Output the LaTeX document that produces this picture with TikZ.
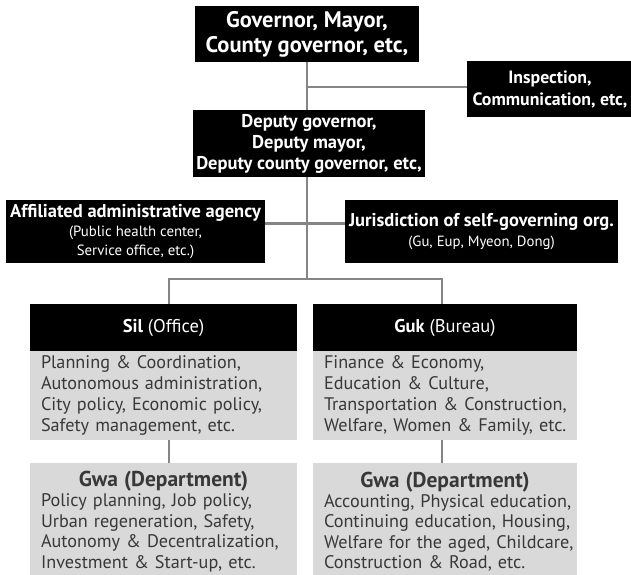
\documentclass[tikz,border=0pt]{standalone}
\usepackage{fontspec}
\setmainfont{PT Sans}
\usetikzlibrary{calc}

\definecolor{linegray}{HTML}{858585}
\definecolor{boxgray}{HTML}{D9D9D9}
\definecolor{txtgray}{HTML}{383838}

\begin{document}
\begin{tikzpicture}[x=1pt,y=-1pt,
    blk/.style={fill=black,text=white,align=center,inner sep=0pt},
    gry/.style={fill=boxgray,text=txtgray,align=left,inner ysep=0pt,inner xsep=11pt},
    link/.style={draw=linegray,line width=2.8pt}]
    \useasboundingbox (0,0) rectangle (631,574);

    % top of the tree
    \node[blk,minimum width=224pt,minimum height=56pt,font=\bfseries\fontsize{22.5}{25}\selectfont] (gov) at (307,34)
        {Governor, Mayor,\\County governor, etc,};
    \node[blk,minimum width=166pt,minimum height=56pt,font=\bfseries\fontsize{17.8}{22}\selectfont] (insp) at (550,89)
        {Inspection,\\Communication, etc,};
    \node[blk,minimum width=232pt,minimum height=67pt,font=\bfseries\fontsize{18.5}{21}\selectfont] (dep) at (309,143.5)
        {Deputy governor,\\Deputy mayor,\\Deputy county governor, etc,};

    % side agencies
    \node[blk,minimum width=259pt,minimum height=63pt,font=\fontsize{14.8}{19}\selectfont] (aff) at (135.5,231.5)
        {{\fontsize{18.5}{19}\selectfont\bfseries Affiliated administrative agency}\\(Public health center,\\Service office, etc.)};
    \node[blk,minimum width=273pt,minimum height=63pt,font=\fontsize{14.8}{20}\selectfont] (jur) at (481.5,231.5)
        {{\fontsize{18.5}{19}\selectfont\bfseries Jurisdiction of self-governing org.}\\(Gu, Eup, Myeon, Dong)};

    % Sil / Guk
    \node[blk,minimum width=267pt,minimum height=47pt,font=\fontsize{18.5}{22}\selectfont] (silh) at (163.5,327.5)
        {\textbf{Sil} (Office)};
    \node[gry,text width=245pt,minimum height=89pt,font=\fontsize{18.2}{20.8}\selectfont] (silb) at (163.5,395.5)
        {Planning \& Coordination,\\\mbox{Autonomous administration,}\\\mbox{City policy, Economic policy,}\\Safety management, etc.};
    \node[blk,minimum width=264pt,minimum height=47pt,font=\fontsize{18.5}{22}\selectfont] (gukh) at (445,327.5)
        {\textbf{Guk} (Bureau)};
    \node[gry,text width=242pt,minimum height=89pt,font=\fontsize{18.2}{20.8}\selectfont] (gukb) at (445,395.5)
        {Finance \& Economy,\\Education \& Culture,\\\mbox{Transportation \& Construction,}\\\mbox{Welfare, Women \& Family, etc.}};

    % Gwa, running off the bottom edge
    \node[gry,text width=245pt,minimum height=117pt,font=\fontsize{18.2}{20.4}\selectfont] (silg) at (163.5,521.5)
        {\makebox[245pt]{\fontsize{21.5}{20.4}\selectfont\bfseries Gwa (Department)}\\Policy planning, Job policy,\\\mbox{Urban regeneration, Safety,}\\\mbox{Autonomy \& Decentralization,}\\\mbox{Investment \& Start-up, etc.}};
    \node[gry,text width=242pt,minimum height=117pt,font=\fontsize{18.2}{20.4}\selectfont] (gukg) at (445,521.5)
        {\makebox[242pt]{\fontsize{21.5}{20.4}\selectfont\bfseries Gwa (Department)}\\\mbox{Accounting, Physical education,}\\\mbox{Continuing education, Housing,}\\\mbox{Welfare for the aged, Childcare,}\\\mbox{Construction \& Road, etc.}};

    % connectors
    \coordinate (split) at (307,279);
    \draw[link] (gov.south) -- (gov.south |- dep.north);
    \draw[link] ([yshift=2pt]gov.south |- insp.west) -- ([yshift=2pt]insp.west);
    \draw[link] (gov.south |- dep.south) -- (split);
    \draw[link] ([yshift=8pt]aff.east) -- ([yshift=8pt]jur.west);
    \draw[link] ([xshift=5.5pt]silh.north) |- (split) -| ([xshift=-3pt]gukh.north);
    \draw[link] ([xshift=5.5pt]silb.south) -- ([xshift=5.5pt]silg.north);
    \draw[link] ([xshift=-3pt]gukb.south) -- ([xshift=-3pt]gukg.north);

\end{tikzpicture}
\end{document}
